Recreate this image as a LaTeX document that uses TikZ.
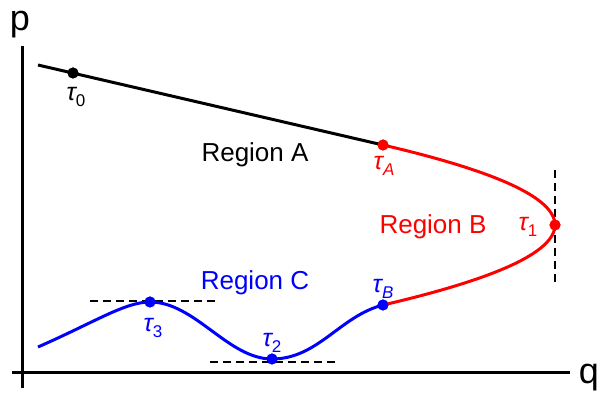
\documentclass[tikz,border=0pt]{standalone}
\usepackage{fontspec}
\setmainfont{Liberation Sans}
\newcommand{\tlab}[1]{{\itshape τ}\raisebox{-0.4ex}{\fontsize{17}{19}\selectfont #1}}
\begin{document}
\begin{tikzpicture}[x=1pt,y=-1pt,
  dot/.style={circle,fill,inner sep=0pt,minimum size=11pt},
  lbl/.style={font=\fontsize{26}{30}\selectfont,inner sep=0pt},
  tau/.style={font=\fontsize{25}{28}\selectfont,inner sep=0pt},
  curve/.style={line width=3pt},
  guide/.style={line width=2.5pt,dash pattern=on 8pt off 5pt}]
\useasboundingbox (0,0) rectangle (606,398);
% axes
\coordinate (ytop) at (22,46);
\coordinate (ybot) at (22,388);
\coordinate (xl) at (12,373);
\coordinate (xr) at (570,373);
\draw[line width=3pt] (ytop) -- (ybot);
\draw[line width=3pt] (xl) -- (xr);
\node[font=\fontsize{36}{40}\selectfont,inner sep=0pt,anchor=base] (p) at (20,31) {p};
\node[font=\fontsize{36}{40}\selectfont,inner sep=0pt,anchor=base] (q) at (589,384) {q};
% points
\coordinate (s) at (38,65);
\node[dot,black] (t0) at (73,73) {};
\node[dot,red] (tA) at (383,145) {};
\node[dot,red] (t1) at (555,225) {};
\node[dot,blue] (tB) at (383,305) {};
\node[dot,blue] (t3) at (150,302) {};
\node[dot,blue] (t2) at (272,359) {};
\coordinate (c0) at (38,347);
% guides
\coordinate (g1a) at (555,170); \coordinate (g1b) at (555,282);
\coordinate (g3a) at (90,301); \coordinate (g3b) at (218,301);
\coordinate (g2a) at (210,362); \coordinate (g2b) at (338,362);
\draw[guide] (g1a) -- (g1b);
\draw[guide] (g3a) -- (g3b);
\draw[guide] (g2a) -- (g2b);
% region A
\draw[curve,black] (s) -- (tA.center);
% region B
\draw[curve,red] (tA.center) .. controls (612.3,198.3) and (612.3,251.7) .. (tB.center);
% region C
\draw[curve,blue] (c0) .. controls (95,322) and (125,302) .. (t3.center)
  .. controls (195,302) and (228,359) .. (t2.center)
  .. controls (318,359) and (340,316) .. (tB.center);
\fill[black] (t0) circle (5.5pt);
\fill[red] (tA) circle (5.5pt);
\fill[red] (t1) circle (5.5pt);
\fill[blue] (tB) circle (5.5pt);
\fill[blue] (t3) circle (5.5pt);
\fill[blue] (t2) circle (5.5pt);
% labels
\node[tau] (l0) at (76,97) {\tlab{0}};
\node[tau,red] (lA) at (384,166) {\tlab{\itshape A}};
\node[tau,red] (l1) at (528,227) {\tlab{1}};
\node[tau,blue] (lB) at (383,289) {\tlab{\itshape B}};
\node[tau,blue] (l3) at (153,328) {\tlab{3}};
\node[tau,blue] (l2) at (272,343) {\tlab{2}};
\node[lbl,black] (rA) at (255,155) {Region A};
\node[lbl,red] (rB) at (433,227) {Region B};
\node[lbl,blue] (rC) at (255,283) {Region C};
\end{tikzpicture}
\end{document}
